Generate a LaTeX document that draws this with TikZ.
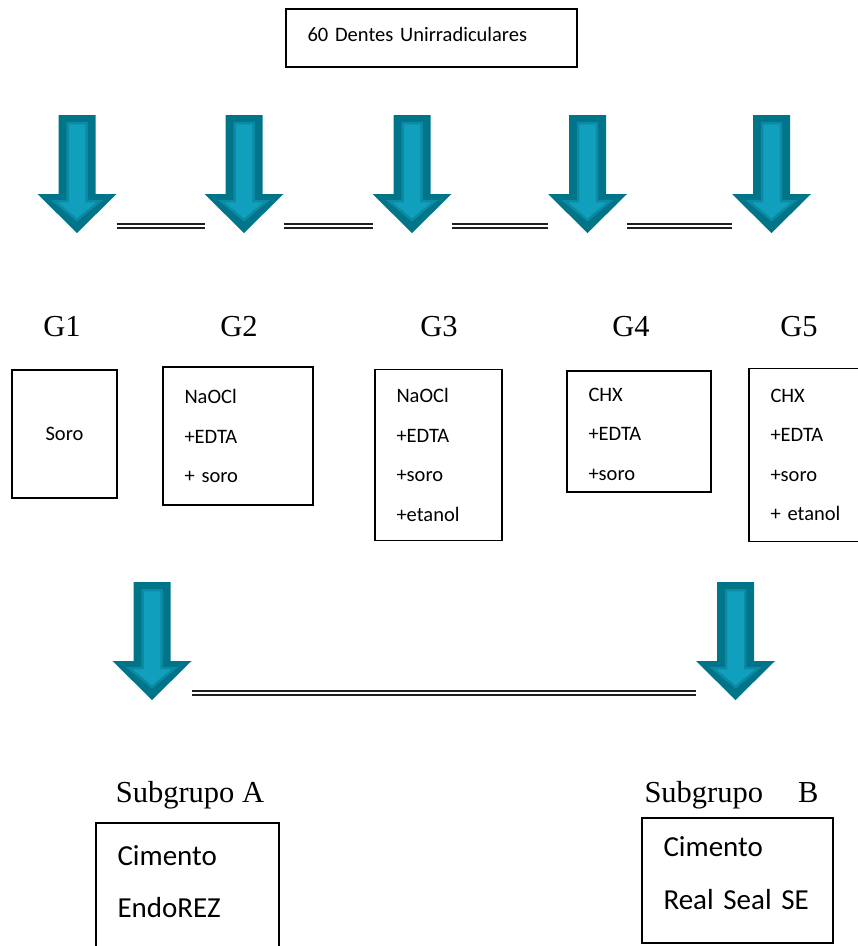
\documentclass[tikz,border=0pt]{standalone}
\usepackage{fontspec}
\setmainfont{Liberation Serif}
\newfontfamily\calibri[WordSpace=0.7]{Carlito}
\definecolor{tealdark}{RGB}{0,116,137}
\definecolor{tealmid}{RGB}{12,138,163}
\definecolor{teallight}{RGB}{16,160,190}
\tikzset{
    downarr/.pic={
        \fill[tealdark] (-18.5,0) -- (18.5,0) -- (18.5,79) -- (39.5,79) -- (0,118) -- (-39.5,79) -- (-18.5,79) -- cycle;
        \filldraw[fill=teallight, draw=tealmid, line width=2.5pt] (-9.5,8) -- (9.5,8) -- (9.5,86) -- (23,86) -- (0,105) -- (-23,86) -- (-9.5,86) -- cycle;
        \coordinate (-west) at (-39.5,111);
        \coordinate (-east) at (39.5,111);
    }
}
\begin{document}
\begin{tikzpicture}[
        x=1pt, y=-1pt,
        box/.style={draw, line width=1.5pt, align=left, inner xsep=21pt, inner ysep=0pt,
            font=\calibri\fontsize{20.5}{39.5}\selectfont},
        bigbox/.style={box, font=\calibri\fontsize{29}{52.5}\selectfont},
        glabel/.style={font=\fontsize{30.5}{36}\selectfont},
        dbl/.style={draw=black!88, line width=1.8pt, double, double distance=2.2pt}
    ]
        \useasboundingbox (0,0) rectangle (858,946);
        \clip (0,0) rectangle (858,946);

        % Sample
        \node[box, minimum width=291pt, minimum height=58pt, text width=248pt, text depth=8pt] (teeth) at (431.5,38) {60 Dentes Unirradiculares};

        % Arrows to the groups
        \pic (a1) at (77,115) {downarr};
        \pic (a2) at (244,115) {downarr};
        \pic (a3) at (412,115) {downarr};
        \pic (a4) at (587.5,115) {downarr};
        \pic (a5) at (771.5,115) {downarr};
        \draw[dbl] (a1-east) -- (a2-west);
        \draw[dbl] (a2-east) -- (a3-west);
        \draw[dbl] (a3-east) -- (a4-west);
        \draw[dbl] (a4-east) -- (a5-west);

        % Groups
        \node[glabel] (lg1) at (62,327) {G1};
        \node[glabel] (lg2) at (239,327) {G2};
        \node[glabel] (lg3) at (439,327) {G3};
        \node[glabel] (lg4) at (631,327) {G4};
        \node[glabel] (lg5) at (799,327) {G5};

        \node[box, align=center, minimum width=105pt, minimum height=128pt, text width=62pt] (g1) at (64.5,434) {Soro};
        \node[box, minimum width=150pt, minimum height=138pt, text width=107pt] (g2) at (238,436) {NaOCl\\+EDTA\\+ soro};
        \node[box, minimum width=127pt, minimum height=171pt, text width=84pt] (g3) at (438.5,455) {NaOCl\\+EDTA\\+soro\\+etanol};
        \node[box, minimum width=144pt, minimum height=121pt, text width=101pt, text height=19pt] (g4) at (639,431.5) {CHX\\+EDTA\\+soro};
        \node[box, minimum width=113pt, minimum height=173pt, text width=70pt] (g5) at (805.5,455) {CHX\\+EDTA\\+soro\\+ etanol};

        % Arrows to the subgroups
        \pic (sa) at (152,582) {downarr};
        \pic (sb) at (735.5,582) {downarr};
        \draw[dbl] (sa-east) -- (sb-west);

        % Subgroups
        \node[glabel] (lsa) at (190,795) {Subgrupo A};
        \node[glabel] (lsb) at (731.5,795) {Subgrupo\hspace{35pt}B};

        \node[bigbox, minimum width=183pt, minimum height=124pt, text width=140pt, text depth=59pt] (suba) at (187.5,885) {Cimento\\EndoREZ};
        \node[bigbox, minimum width=191pt, minimum height=125pt, text width=148pt, text depth=67pt] (subb) at (737.5,880.5) {Cimento\\Real Seal SE};
    \end{tikzpicture}
\end{document}
